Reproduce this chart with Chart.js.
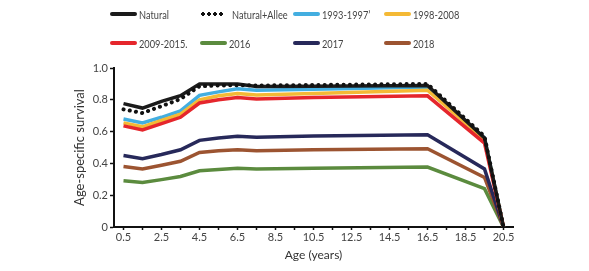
<!DOCTYPE html>
<html>
<head>
<meta charset="utf-8">
<script src="https://cdn.jsdelivr.net/npm/chart.js@4.4.1/dist/chart.umd.min.js"></script>
<style>
  html, body { margin: 0; padding: 0; background: #fff; }
  #wrap { position: relative; width: 589px; height: 271px; }
  #legend { position: absolute; left: 0; top: 0; width: 589px; height: 60px; font-family: Lato, sans-serif; font-size: 11px; color: #444; }
  .item { position: absolute; display: flex; align-items: center; height: 14px; white-space: nowrap; }
  .item span { display: inline-block; transform: scaleX(0.84); transform-origin: left center; }
  .swatch { width: 27px; height: 4px; border-radius: 2px; margin-right: 2px; }
  .dots { width: 24px; height: 4px; margin-right: 8px;
          background-image: radial-gradient(circle, #111 1.8px, transparent 2px);
          background-size: 6px 4px; }
</style>
</head>
<body>
<div id="wrap">
  <canvas id="chart" width="589" height="271"></canvas>
  <div id="legend"></div>
</div>
<script>
const ages = [0.5, 1.5, 2.5, 3.5, 4.5, 5.5, 6.5, 7.5, 10.5, 16.5, 19.5, 20.5];
const xTicks = [0.5, 1.5, 2.5, 3.5, 4.5, 5.5, 6.5, 7.5, 8.5, 9.5, 10.5, 11.5, 12.5, 13.5, 14.5, 15.5, 16.5, 17.5, 18.5, 19.5, 20.5];
const yTicks = [0, 0.2, 0.4, 0.6, 0.8, 1.0];

const seriesNames = ["Natural", "Natural+Allee", "1993-1997", "1998-2008", "2009-2015", "2016", "2017", "2018"];
const legendLabels = ["Natural", "Natural+Allee", "1993-1997\u02BC", "1998-2008", "2009-2015.", "2016", "2017", "2018"];
const seriesColors = ["#1b1b1b", "#111111", "#43aee0", "#f4b935", "#e5262c", "#5b8b3e", "#27295a", "#9c5431"];

const natural    = [0.776, 0.748, 0.790, 0.826, 0.900, 0.900, 0.900, 0.884, 0.886, 0.890, 0.560, 0];
const allee      = [0.740, 0.717, 0.760, 0.805, 0.885, 0.890, 0.892, 0.890, 0.893, 0.900, 0.570, 0];
const s1993      = [0.679, 0.654, 0.690, 0.730, 0.828, 0.850, 0.870, 0.860, 0.866, 0.880, 0.560, 0];
const s1998      = [0.655, 0.630, 0.670, 0.710, 0.800, 0.825, 0.840, 0.830, 0.840, 0.860, 0.550, 0];
const s2009      = [0.636, 0.610, 0.650, 0.690, 0.780, 0.800, 0.815, 0.805, 0.815, 0.825, 0.528, 0];
const s2016      = [0.291, 0.280, 0.298, 0.318, 0.354, 0.362, 0.369, 0.365, 0.370, 0.377, 0.241, 0];
const s2017      = [0.450, 0.430, 0.456, 0.486, 0.545, 0.560, 0.570, 0.565, 0.572, 0.580, 0.365, 0];
const s2018      = [0.381, 0.365, 0.388, 0.413, 0.469, 0.480, 0.486, 0.480, 0.486, 0.492, 0.312, 0];
const allSeries = [natural, allee, s1993, s1998, s2009, s2016, s2017, s2018];

// draw order: later in this list = painted on top
const drawOrder = [5, 7, 6, 2, 3, 4, 0, 1];

const datasets = allSeries.map((vals, i) => ({
  label: seriesNames[i],
  data: ages.map((a, k) => ({ x: a, y: vals[k] })),
  borderColor: seriesColors[i],
  backgroundColor: seriesColors[i],
  borderWidth: i === 1 ? 4 : 3.5,
  borderDash: i === 1 ? [0.1, 6.2] : [],
  borderCapStyle: i === 1 ? "round" : "butt",
  pointRadius: 0,
  tension: 0,
  order: drawOrder.length - drawOrder.indexOf(i)
}));

// HTML legend
const legend = document.getElementById("legend");
const colX = [110, 200, 293, 384];
const rowY = [7, 36];
seriesNames.forEach((name, i) => {
  const item = document.createElement("div");
  item.className = "item";
  item.style.left = colX[i % 4] + "px";
  item.style.top = rowY[Math.floor(i / 4)] + "px";
  const sw = document.createElement("div");
  if (i === 1) {
    sw.className = "dots";
  } else {
    sw.className = "swatch";
    sw.style.background = seriesColors[i];
  }
  item.appendChild(sw);
  const txt = document.createElement("span");
  txt.innerText = legendLabels[i];
  item.appendChild(txt);
  legend.appendChild(item);
});

const ctx = document.getElementById("chart").getContext("2d");
new Chart(ctx, {
  type: "line",
  data: { datasets: datasets },
  options: {
    responsive: false,
    animation: false,
    layout: { padding: { top: 68, right: 76, left: 72, bottom: 9 } },
    plugins: { legend: { display: false }, tooltip: { enabled: false } },
    scales: {
      x: {
        type: "linear",
        min: 0,
        max: 21,
        afterFit: (s) => { s.height = 35; },
        afterBuildTicks: (s) => { s.ticks = xTicks.map(v => ({ value: v })); },
        border: { display: true, color: "#111", width: 2 },
        grid: { drawOnChartArea: false, drawTicks: true, tickLength: 3, color: "#111", tickWidth: 1.5 },
        ticks: {
          color: "#444",
          font: { family: "Lato", size: 11 },
          padding: 1,
          maxRotation: 0,
          autoSkip: false,
          callback: (v, idx) => (idx % 2 === 0 ? String(v) : "")
        },
        title: { display: true, text: "Age (years)", color: "#333", font: { family: "Lato", size: 12 }, padding: { top: 0, bottom: 0 } }
      },
      y: {
        min: 0,
        max: 1.0,
        afterFit: (s) => { s.width = 42; },
        afterBuildTicks: (s) => { s.ticks = yTicks.map(v => ({ value: v })); },
        border: { display: true, color: "#111", width: 2 },
        grid: { drawOnChartArea: false, drawTicks: true, tickLength: 4, color: "#111", tickWidth: 1.5 },
        ticks: {
          color: "#444",
          font: { family: "Lato", size: 11 },
          padding: 2,
          callback: (v) => (v === 0 ? "0" : v.toFixed(1))
        },
        title: { display: true, text: "Age-specific survival", color: "#333", font: { family: "Lato", size: 13 }, padding: { top: 0, bottom: 0 } }
      }
    }
  }
});
</script>
</body>
</html>
